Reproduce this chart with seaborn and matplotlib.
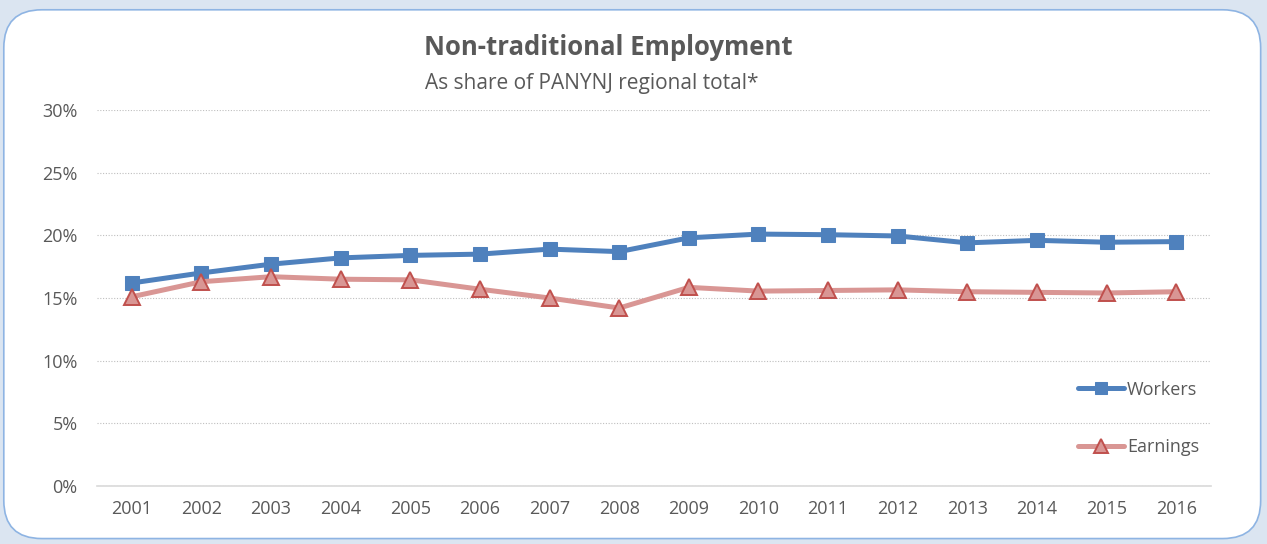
import numpy as np
import pandas as pd
import matplotlib
matplotlib.use("Agg")
import matplotlib.pyplot as plt
from matplotlib.patches import FancyBboxPatch
from matplotlib.ticker import PercentFormatter
import seaborn as sns

years = [str(y) for y in range(2001, 2017)]
workers = [16.2, 17.0, 17.7, 18.2, 18.4, 18.5, 18.9, 18.7, 19.8, 20.1,
           20.05, 19.95, 19.4, 19.6, 19.45, 19.5]
earnings = [15.1, 16.3, 16.7, 16.5, 16.45, 15.7, 15.0, 14.2, 15.85, 15.55,
            15.6, 15.65, 15.5, 15.45, 15.4, 15.5]

sns.set_theme(style="white")
plt.rcParams['font.family'] = ['Open Sans', 'DejaVu Sans']

txt = "#595959"
blue = "#4f81bd"
pink = "#d99694"
red = "#c0504d"

fig = plt.figure(figsize=(12.67, 5.44), dpi=100)
fig.patch.set_facecolor("#dbe5f1")

# rounded card behind the chart
card = FancyBboxPatch((0.003, 0.01), 0.992, 0.972,
                      boxstyle="round,pad=0,rounding_size=0.03",
                      transform=fig.transFigure, facecolor="white",
                      edgecolor="#8eb4e3", linewidth=1.2, zorder=-10,
                      mutation_aspect=1267 / 544)
fig.patches.append(card)

ax = fig.add_axes([0.0766, 0.1066, 0.8792, 0.6912])
ax.set_facecolor("none")

df = pd.DataFrame({"year": years, "Workers": workers, "Earnings": earnings})

sns.lineplot(data=df, x="year", y="Workers", ax=ax, color=blue, linewidth=3.6,
             marker="s", markersize=10, markeredgecolor=blue,
             markerfacecolor=blue, label="Workers", zorder=3)
sns.lineplot(data=df, x="year", y="Earnings", ax=ax, color=pink, linewidth=3.6,
             marker="^", markersize=11, markeredgecolor=red,
             markerfacecolor=pink, markeredgewidth=1.4, label="Earnings",
             zorder=3)

ax.set_xlim(-0.5, len(years) - 0.5)
ax.set_ylim(0, 30)
ax.set_yticks(range(0, 31, 5))
ax.yaxis.set_major_formatter(PercentFormatter(decimals=0))
ax.yaxis.grid(True, linestyle=(0, (1, 1.5)), color="#bfbfbf", linewidth=0.8)
ax.set_axisbelow(True)

for s in ["top", "right", "left"]:
    ax.spines[s].set_visible(False)
ax.spines["bottom"].set_color("#d9d9d9")
ax.spines["bottom"].set_linewidth(1.2)

ax.tick_params(axis="both", length=0, labelsize=13, colors=txt)
ax.tick_params(axis="x", pad=10)
ax.tick_params(axis="y", pad=14)
ax.set_xlabel("")
ax.set_ylabel("")

leg = ax.legend(loc="lower right", bbox_to_anchor=(0.996, 0.06), frameon=False,
                fontsize=13, labelspacing=2.2, handlelength=2.6,
                handletextpad=0.15, borderaxespad=0, markerscale=0.9)
for t in leg.get_texts():
    t.set_color(txt)

fig.text(0.4805, 0.913, "Non-traditional Employment", ha="center", va="center",
         fontsize=18.5, fontweight="bold", color=txt)
fig.text(0.467, 0.847, "As share of PANYNJ regional total*", ha="center",
         va="center", fontsize=15, color=txt)

fig.savefig("out.png", dpi=100, facecolor=fig.get_facecolor())
